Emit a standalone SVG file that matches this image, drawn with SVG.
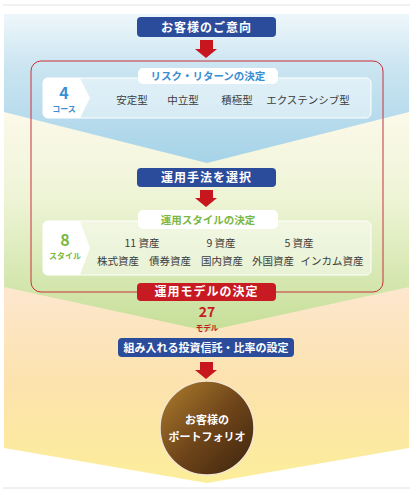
<svg xmlns="http://www.w3.org/2000/svg" width="414" height="492" viewBox="0 0 414 492">
<defs>
<linearGradient id="gBlue" x1="0" y1="14" x2="0" y2="163" gradientUnits="userSpaceOnUse">
<stop offset="0" stop-color="#eef7fb"/><stop offset="0.35" stop-color="#cbe5f1"/><stop offset="1" stop-color="#a6d3e8"/>
</linearGradient>
<linearGradient id="gGreen" x1="0" y1="110" x2="0" y2="330" gradientUnits="userSpaceOnUse">
<stop offset="0" stop-color="#fcf9ea"/><stop offset="0.4" stop-color="#eef4d6"/><stop offset="1" stop-color="#c6df98"/>
</linearGradient>
<linearGradient id="gOrange" x1="0" y1="285" x2="0" y2="483" gradientUnits="userSpaceOnUse">
<stop offset="0" stop-color="#fde7cf"/><stop offset="0.5" stop-color="#fce2ad"/><stop offset="1" stop-color="#fcee9a"/>
</linearGradient>
<linearGradient id="gBall" x1="0" y1="0" x2="1" y2="1">
<stop offset="0" stop-color="#b07f2e"/><stop offset="0.5" stop-color="#70461a"/><stop offset="1" stop-color="#3b230d"/>
</linearGradient>
<style>
.t{font-family:"Noto Sans CJK JP","Noto Sans",sans-serif;}
.hb{fill:#2b4c9b;}
.hr{fill:#c81a22;}
.ht{fill:#fff;font-size:12px;font-weight:bold;text-anchor:middle;letter-spacing:1px;}
.arrow{fill:#c8161e;}
.panel{fill:#ffffff;fill-opacity:0.45;stroke:#ffffff;stroke-width:1;}
.tab{fill:#ffffff;}
.item{fill:#3c3c3c;font-size:10.5px;text-anchor:middle;}
.lblB{fill:#3a8ed2;font-size:10.5px;font-weight:bold;text-anchor:middle;}
.lblG{fill:#7ab743;font-size:10.5px;font-weight:bold;text-anchor:middle;}
</style>
</defs>
<rect x="0" y="0" width="414" height="492" fill="#ffffff"/>
<line x1="3" y1="5" x2="410" y2="5" stroke="#e2e2e2" stroke-width="1"/>
<line x1="3" y1="488" x2="410" y2="488" stroke="#e2e2e2" stroke-width="1"/>
<g id="bands">
<polygon points="4,280 409,280 409,448 207,483 4,448" fill="url(#gOrange)"/>
<polygon points="4,108 409,108 409,287 207,331 4,287" fill="url(#gGreen)"/>
<polygon points="4,14 409,14 409,112 207,163 4,112" fill="url(#gBlue)"/>
</g>
<rect id="frame" x="31" y="61" width="352" height="231" rx="10" fill="none" stroke="#c8313a" stroke-width="1"/>
<g id="connectors">
<polygon class="arrow" points="200,40 213,40 213,49 217,49 206,58 195,49 200,49"/>
<polygon class="arrow" points="200,190 213,190 213,198 217,198 206,207 195,198 200,198"/>
<polygon class="arrow" points="200,362 213,362 213,370 217,370 206,379 195,370 200,370"/>
</g>
<g id="n-intent">
<rect class="hb" x="137" y="17" width="139" height="20" rx="4"/>
<text class="t ht" x="206.5" y="31.5">お客様のご意向</text>
</g>
<g id="n-risk">
<rect class="panel" x="43" y="78" width="328" height="40" rx="5"/>
<path d="M48,78 H80 L90,98 L80,118 H48 Q43,118 43,113 V83 Q43,78 48,78 Z" fill="#ffffff"/>
<rect class="tab" x="138" y="68" width="140" height="16" rx="5"/>
<text class="t lblB" x="208" y="80">リスク・リターンの決定</text>
<text class="t" x="64" y="99" fill="#3a8ed2" font-size="16" font-weight="bold" text-anchor="middle">4</text>
<text class="t" x="64" y="112" fill="#3a8ed2" font-size="8" font-weight="bold" text-anchor="middle">コース</text>
<text class="t item" x="132" y="104">安定型</text>
<text class="t item" x="183" y="104">中立型</text>
<text class="t item" x="237" y="104">積極型</text>
<text class="t item" x="308" y="104">エクステンシブ型</text>
</g>
<g id="n-method">
<rect class="hb" x="137" y="168" width="139" height="19" rx="4"/>
<text class="t ht" x="206.5" y="182" letter-spacing="3">運用手法を選択</text>
</g>
<g id="n-style">
<rect class="panel" x="43" y="221" width="328" height="54" rx="5"/>
<path d="M48,221 H80 L90,248 L80,275 H48 Q43,275 43,270 V226 Q43,221 48,221 Z" fill="#ffffff"/>
<rect class="tab" x="138" y="210" width="140" height="19" rx="5"/>
<text class="t lblG" x="208" y="223.5">運用スタイルの決定</text>
<text class="t" x="65" y="246" fill="#7ab743" font-size="16" font-weight="bold" text-anchor="middle">8</text>
<text class="t" x="65" y="259" fill="#7ab743" font-size="8" font-weight="bold" text-anchor="middle">スタイル</text>
<text class="t item" x="142" y="247">11 資産</text>
<text class="t item" x="221" y="247">9 資産</text>
<text class="t item" x="299" y="247">5 資産</text>
<text class="t item" x="118" y="265">株式資産</text>
<text class="t item" x="170" y="265">債券資産</text>
<text class="t item" x="222" y="265">国内資産</text>
<text class="t item" x="273" y="265">外国資産</text>
<text class="t item" x="332" y="265">インカム資産</text>
</g>
<g id="n-model">
<rect class="hr" x="137" y="283" width="139" height="18" rx="4"/>
<text class="t ht" x="206.5" y="296" letter-spacing="3">運用モデルの決定</text>
<text class="t" x="207" y="317" fill="#c81a22" font-size="14" font-weight="bold" text-anchor="middle">27</text>
<text class="t" x="207" y="330.5" fill="#c81a22" font-size="7.5" font-weight="bold" text-anchor="middle">モデル</text>
</g>
<g id="n-fund">
<rect class="hb" x="118" y="338" width="176" height="19" rx="4"/>
<text class="t" x="206" y="351.5" fill="#fff" font-size="11" font-weight="bold" text-anchor="middle">組み入れる投資信託・比率の設定</text>
</g>
<g id="n-portfolio">
<circle cx="207" cy="428" r="47" fill="url(#gBall)" stroke="#f3e6cf" stroke-width="1.5"/>
<text class="t" x="207" y="424" fill="#fff" font-size="11" font-weight="bold" text-anchor="middle">お客様の</text>
<text class="t" x="207" y="441" fill="#fff" font-size="11" font-weight="bold" text-anchor="middle">ポートフォリオ</text>
</g>
</svg>
